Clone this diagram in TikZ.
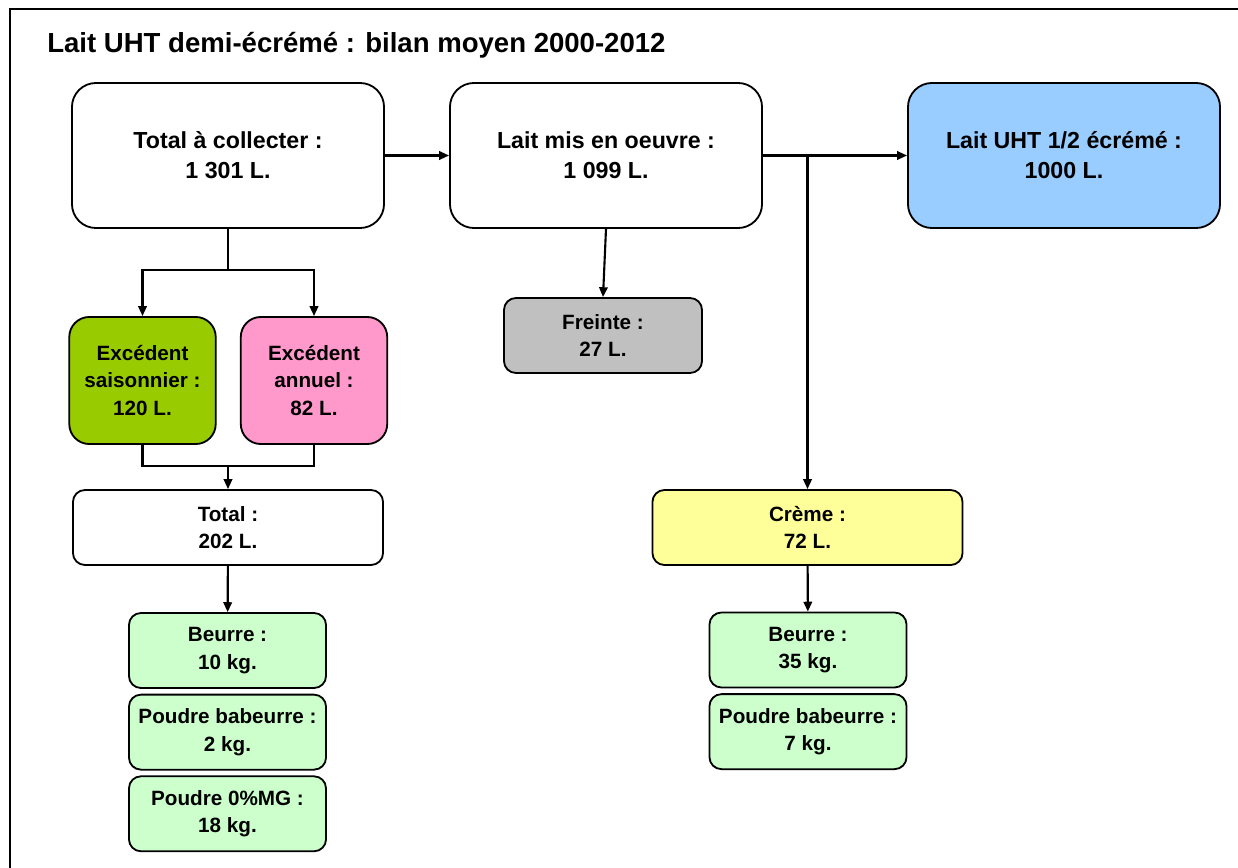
\documentclass[tikz,border=0pt]{standalone}
\usepackage{fontspec}
\setmainfont{Liberation Sans}
\usetikzlibrary{arrows.meta, positioning}
\definecolor{uhtblue}{HTML}{99CCFF}
\definecolor{saisgreen}{HTML}{99CC00}
\definecolor{annpink}{HTML}{FF99CC}
\definecolor{freintegrey}{HTML}{C0C0C0}
\definecolor{cremeyellow}{HTML}{FFFF99}
\definecolor{prodgreen}{HTML}{CCFFCC}

\begin{document}
\begin{tikzpicture}[
  x=0.025cm, y=-0.025cm,
  node distance=0.12cm,
  bigbox/.style={rectangle, draw=black, line width=1.3pt, rounded corners=0.6cm,
                 minimum width=7.8cm, minimum height=3.625cm, inner sep=0pt,
                 align=center, fill=white, font=\fontsize{16.5}{21.3}\selectfont\bfseries},
  excbox/.style={bigbox, rounded corners=0.5cm, minimum width=3.66cm,
                 minimum height=3.175cm, font=\fontsize{14.7}{19.6}\selectfont\bfseries},
  sumbox/.style={excbox, rounded corners=0.3cm, minimum width=7.75cm,
                 minimum height=1.875cm},
  prodbox/.style={sumbox, minimum width=4.925cm, fill=prodgreen},
  arr/.style={-{Triangle[length=7pt, width=6pt]}, line width=1.5pt},
  lnk/.style={line width=1.5pt}
]
  \useasboundingbox (0,0) rectangle (1238,868);
  \draw[lnk] (10,868) -- (10,9) -- (1238,9);
  \node[anchor=west, inner sep=0pt, font=\fontsize{19.6}{24}\selectfont\bfseries] (title) at (47,45)
    {Lait UHT demi-écrémé : bilan moyen 2000-2012};

  \node[bigbox] (collect) at (228,155.5) {Total à collecter :\\1 301 L.};
  \node[bigbox] (mis) at (606,155.5) {Lait mis en oeuvre :\\1 099 L.};
  \node[bigbox, fill=uhtblue] (uht) at (1064,155.5) {Lait UHT 1/2 écrémé :\\1000 L.};
  \node[excbox, fill=saisgreen] (saison) at (142.5,380.5) {Excédent\\saisonnier :\\120 L.};
  \node[excbox, fill=annpink] (annuel) at (314,380.5) {Excédent\\annuel :\\82 L.};
  \node[sumbox] (total) at (228,527.5) {Total :\\202 L.};
  \node[sumbox, minimum width=4.95cm, fill=freintegrey] (freinte) at (603,335.5) {Freinte :\\27 L.};
  \node[sumbox, fill=cremeyellow] (creme) at (807.5,527.5) {Crème :\\72 L.};
  \node[prodbox] (beurreA) at (227.5,650.5) {Beurre :\\10 kg.};
  \node[prodbox, below=of beurreA] (babeurreA) {Poudre babeurre :\\2 kg.};
  \node[prodbox, below=of babeurreA] (poudreA) {Poudre 0\%MG :\\18 kg.};
  \node[prodbox] (beurreB) at (808,650) {Beurre :\\35 kg.};
  \node[prodbox, below=of beurreB] (babeurreB) {Poudre babeurre :\\7 kg.};

  % main line
  \draw[arr] (collect) -- (mis);
  \draw[arr] (mis) -- (uht);
  \draw[arr] (mis.east -| creme.north) -- (creme.north);
  \draw[arr] (mis.south) -- (freinte.north);

  % excess milk
  \coordinate (fork) at (228,270);
  \coordinate (join) at (228,466);
  \draw[lnk] (collect.south) -- (fork);
  \draw[arr] (fork) -| (saison.north);
  \draw[arr] (fork) -| (annuel.north);
  \draw[lnk] (saison.south) |- (join) -| (annuel.south);
  \draw[arr] (join) -- (total);

  % products
  \draw[arr] (total) -- (beurreA);
  \draw[arr] (creme) -- (beurreB);
\end{tikzpicture}
\end{document}
